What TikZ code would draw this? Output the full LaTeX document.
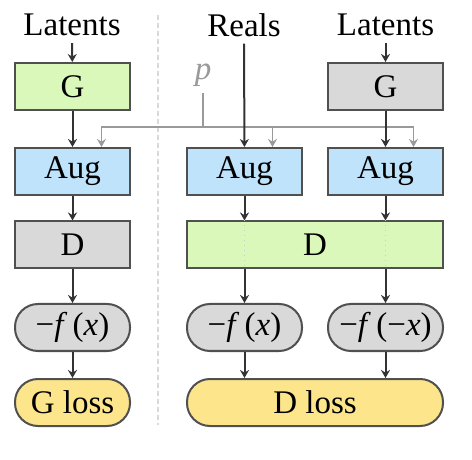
\documentclass[tikz,border=0pt]{standalone}
\usepackage{fontspec}
\setmainfont{Liberation Serif}
\usetikzlibrary{arrows.meta, positioning, calc}
\definecolor{cgreen}{HTML}{DAF8B9}
\definecolor{cblue}{HTML}{BFE3FA}
\definecolor{cgray}{HTML}{D9D9D9}
\definecolor{cyellow}{HTML}{FDE58C}
\definecolor{cedge}{HTML}{505050}
\definecolor{cbranch}{HTML}{9A9A9A}
\tikzset{
  block/.style={draw=cedge, line width=1pt, minimum width=57.5pt, minimum height=23.5pt, inner sep=0pt},
  pill/.style={block, rounded corners=11.5pt},
  arr/.style={-{Stealth[length=4pt,width=4.5pt]}, line width=1pt, black!80},
  parr/.style={-{Stealth[length=4pt,width=4.5pt]}, line width=0.7pt, cbranch},
}
\begin{document}
\begin{tikzpicture}[x=0.5pt, y=-0.5pt, every node/.style={font=\fontsize{16.5}{18}\selectfont}]
  \useasboundingbox (0,0) rectangle (472,460);
  % divider
  \draw[cgray, line width=1pt, dash pattern=on 2.5pt off 1.5pt] (158,15) -- (158,425);

  % left column (generator loss)
  \node (latL) at (72,25) {Latents};
  \node[block, fill=cgreen] (gL) at (72.5,86.5) {G};
  \node[block, fill=cblue] (augL) at (72.5,171.5) {Aug};
  \node[block, fill=cgray] (dL) at (72.5,245) {D};
  \node[pill, fill=cgray] (fL) at (72.5,327.5) {−\textit{f}\,(\textit{x})};
  \node[pill, fill=cyellow] (gloss) at (72.5,402.5) {G loss};

  % right part (discriminator loss)
  \node (reals) at (244,25) {Reals};
  \node (latR) at (385.5,25) {Latents};
  \node[block, fill=cgray] (gR) at (385.5,86.5) {G};
  \node[block, fill=cblue] (augM) at (244.5,171.5) {Aug};
  \node[block, fill=cblue] (augR) at (385.5,171.5) {Aug};
  \node[block, fill=cgreen, minimum width=128pt] (dR) at (315,245) {D};
  \node[pill, fill=cgray] (fM) at (244.5,327.5) {−\textit{f}\,(\textit{x})};
  \node[pill, fill=cgray] (fR) at (385.5,327.5) {−\textit{f}\,(−\textit{x})};
  \node[pill, fill=cyellow, minimum width=128pt] (dloss) at (315,402.5) {D loss};

  % augmentation probability
  \node[text=cbranch] (p) at (203,75) {\textit{p}};
  \coordinate (pj) at (p.south |- 0,127);
  \draw[line width=0.7pt, cbranch] (p.south) -- (pj);
  \draw[parr] (pj) -| ([xshift=14.5pt]augL.north);
  \draw[parr] (pj) -| ([xshift=14pt]augR.north);
  \draw[parr] ([xshift=14pt]augM.north |- pj) -- ([xshift=14pt]augM.north);

  % main flow
  \draw[arr] (latL) -- (gL);
  \draw[arr] (gL) -- (augL);
  \draw[arr] (augL) -- (dL);
  \draw[arr] (dL) -- (fL);
  \draw[arr] (fL) -- (gloss);

  \draw[arr] (reals) -- (augM);
  \draw[arr] (latR) -- (gR);
  \draw[arr] (gR) -- (augR);
  \foreach \c/\f in {augM/fM, augR/fR}{
    \draw[arr] (\c) -- (\c |- dR.north);
    \draw[cbranch!50, dotted, line width=0.5pt] (\c |- dR.north) -- (\c |- dR.south);
    \draw[arr] (\c |- dR.south) -- (\f);
    \draw[arr] (\f) -- (\f |- dloss.north);
  }
\end{tikzpicture}
\end{document}
